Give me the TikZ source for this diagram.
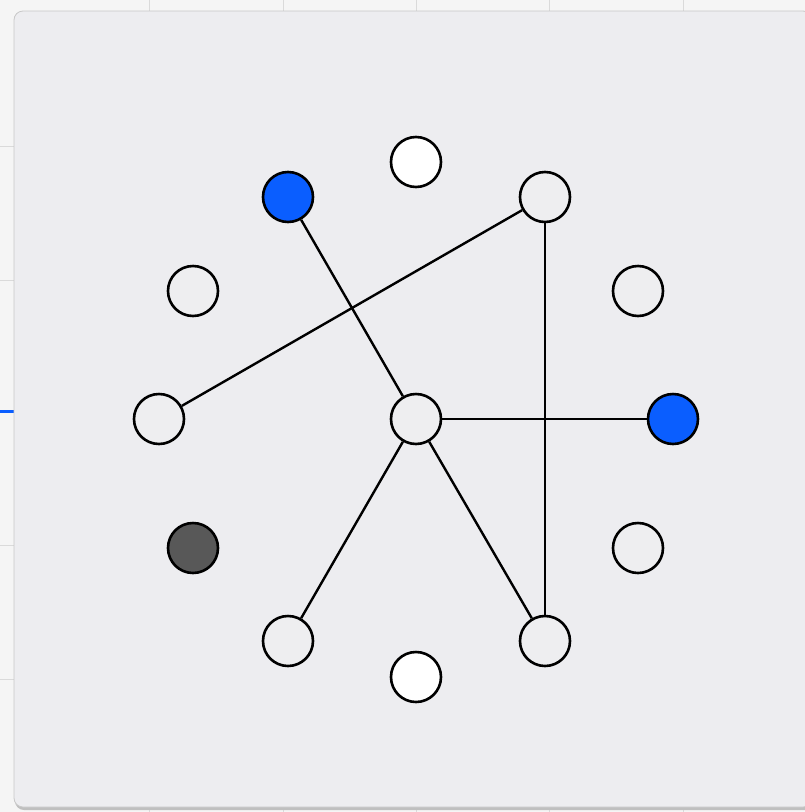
\documentclass[tikz,border=0pt]{standalone}
\begin{document}
\begin{tikzpicture}[x=1pt,y=-1pt,
  vtx/.style={circle,draw=black,line width=2.6pt,minimum size=50pt,inner sep=0pt,fill=vlight},
  vwhite/.style={vtx,fill=white},
  vblue/.style={vtx,fill=vblue},
  vdark/.style={vtx,fill=vdark},
  edge/.style={draw=black,line width=2.4pt},
  grid/.style={draw=gridc,line width=0.8pt}]
\definecolor{vlight}{HTML}{EEEEF0}
\definecolor{vblue}{HTML}{0A5EFF}
\definecolor{vdark}{HTML}{585858}
\definecolor{panel}{HTML}{EDEDF0}
\definecolor{gridc}{HTML}{DADADA}
\definecolor{pborder}{HTML}{C8C8C8}
\useasboundingbox (0,0) rectangle (805,812);
\fill[white!96!black] (0,0) rectangle (805,812);
\foreach \gx in {149,283,416,549,683} \draw[grid] (\gx,0) -- (\gx,812);
\foreach \gy in {146,280,411,545,679} \draw[grid] (0,\gy) -- (805,\gy);
\draw[line width=3pt,draw=vblue] (0,411) -- (14,411);
\fill[black!25,rounded corners=9pt] (15,13) rectangle (815,810);
\filldraw[fill=panel,draw=pborder,line width=0.8pt,rounded corners=9pt] (14,11) rectangle (812,807);
\node[vwhite] (n1) at (416,162) {};
\node[vblue] (n2) at (288,197) {};
\node[vtx] (n3) at (545,197) {};
\node[vtx] (n4) at (193,291) {};
\node[vtx] (n5) at (638,291) {};
\node[vtx] (n6) at (159,419) {};
\node[vtx] (n7) at (416,419) {};
\node[vblue] (n8) at (673,419) {};
\node[vdark] (n9) at (193,548) {};
\node[vtx] (n10) at (638,548) {};
\node[vtx] (n11) at (288,641) {};
\node[vtx] (n12) at (545,641) {};
\node[vwhite] (n13) at (416,677) {};
\draw[edge] (n2) -- (n7);
\draw[edge] (n3) -- (n6);
\draw[edge] (n3) -- (n12);
\draw[edge] (n7) -- (n8);
\draw[edge] (n7) -- (n11);
\draw[edge] (n7) -- (n12);
\end{tikzpicture}
\end{document}
